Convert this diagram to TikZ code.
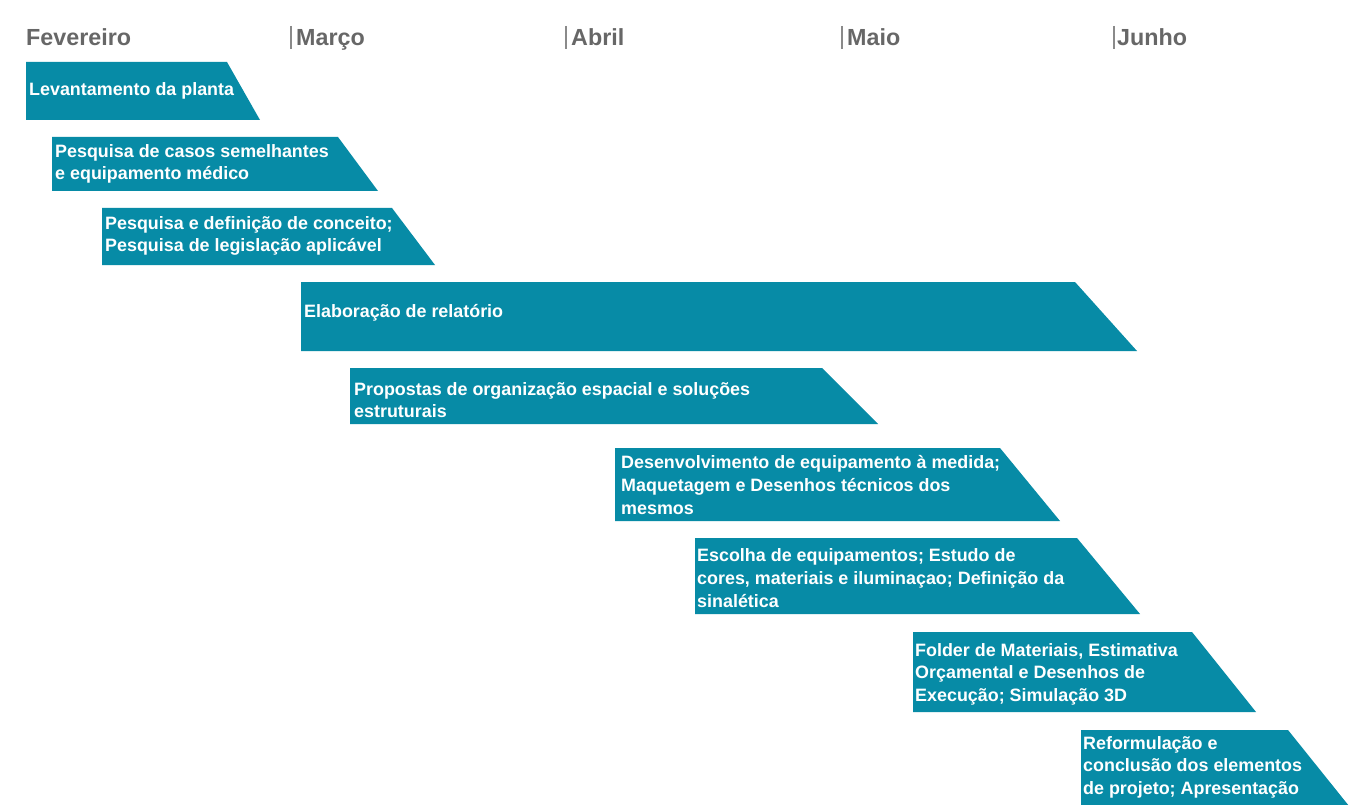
\documentclass[tikz,border=0pt]{standalone}
\usepackage{fontspec}
\setmainfont{Liberation Sans}
\definecolor{barteal}{HTML}{078BA6}
\definecolor{monthgray}{HTML}{676767}
\definecolor{tickgray}{HTML}{8A8A8A}
\begin{document}
\begin{tikzpicture}[x=1pt,y=-1pt,
  bartext/.style={anchor=west,align=left,text=white,inner sep=0pt,
    font=\bfseries\fontsize{17.9}{22.6}\selectfont},
  month/.style={anchor=base west,inner sep=0pt,text=monthgray,
    font=\bfseries\fontsize{23.3}{25}\selectfont},
  tick/.style={draw=tickgray,line width=1.3pt},
  bar/.style={fill=barteal}]
\useasboundingbox (0,0) rectangle (1349,805);
\fill[white] (0,0) rectangle (1349,805);
% months
\node[month] (feb) at (26,45.5) {Fevereiro};
\node[month] (mar) at (296,45.5) {Março};
\node[month] (abr) at (571,45.5) {Abril};
\node[month] (mai) at (847,45.5) {Maio};
\node[month] (jun) at (1117,45.5) {Junho};
\coordinate (tmar1) at (291,26); \coordinate (tmar2) at (291,49);
\coordinate (tabr1) at (566,26); \coordinate (tabr2) at (566,49);
\coordinate (tmai1) at (842,26); \coordinate (tmai2) at (842,49);
\coordinate (tjun1) at (1114,26); \coordinate (tjun2) at (1114,49);
\draw[tick] (tmar1) -- (tmar2);
\draw[tick] (tabr1) -- (tabr2);
\draw[tick] (tmai1) -- (tmai2);
\draw[tick] (tjun1) -- (tjun2);
% bars
\fill[bar] (26,62) -- (227,62) -- (260,120) -- (26,120) -- cycle;
\node[bartext] (b1) at (29,91) {Levantamento da planta};
\fill[bar] (52,137) -- (338,137) -- (378,191) -- (52,191) -- cycle;
\node[bartext] (b2) at (55,164) {Pesquisa de casos semelhantes\\e equipamento médico};
\fill[bar] (102,208) -- (392,208) -- (435,265) -- (102,265) -- cycle;
\node[bartext] (b3) at (105,236) {Pesquisa e definição de conceito;\\Pesquisa de legislação aplicável};
\fill[bar] (301,282) -- (1075,282) -- (1137,351) -- (301,351) -- cycle;
\node[bartext] (b4) at (304,313) {Elaboração de relatório};
\fill[bar] (350,368) -- (822,368) -- (878,424) -- (350,424) -- cycle;
\node[bartext] (b5) at (354,400) {Propostas de organização espacial e soluções\\estruturais};
\fill[bar] (615,448) -- (1000,448) -- (1060,521) -- (615,521) -- cycle;
\node[bartext] (b6) at (621,485) {Desenvolvimento de equipamento à medida;\\Maquetagem e Desenhos técnicos dos\\mesmos};
\fill[bar] (695,538) -- (1077,538) -- (1140,614) -- (695,614) -- cycle;
\node[bartext] (b7) at (697,578) {Escolha de equipamentos; Estudo de\\cores, materiais e iluminaçao; Definição da\\sinalética};
\fill[bar] (913,632) -- (1192,632) -- (1256,712) -- (913,712) -- cycle;
\node[bartext] (b8) at (915,674) {Folder de Materiais, Estimativa\\Orçamental e Desenhos de\\Execução; Simulação 3D};
\fill[bar] (1081,730) -- (1288,730) -- (1349,806) -- (1081,806) -- cycle;
\node[bartext] (b9) at (1083,767) {Reformulação e\\conclusão dos elementos\\de projeto; Apresentação};
\end{tikzpicture}
\end{document}
